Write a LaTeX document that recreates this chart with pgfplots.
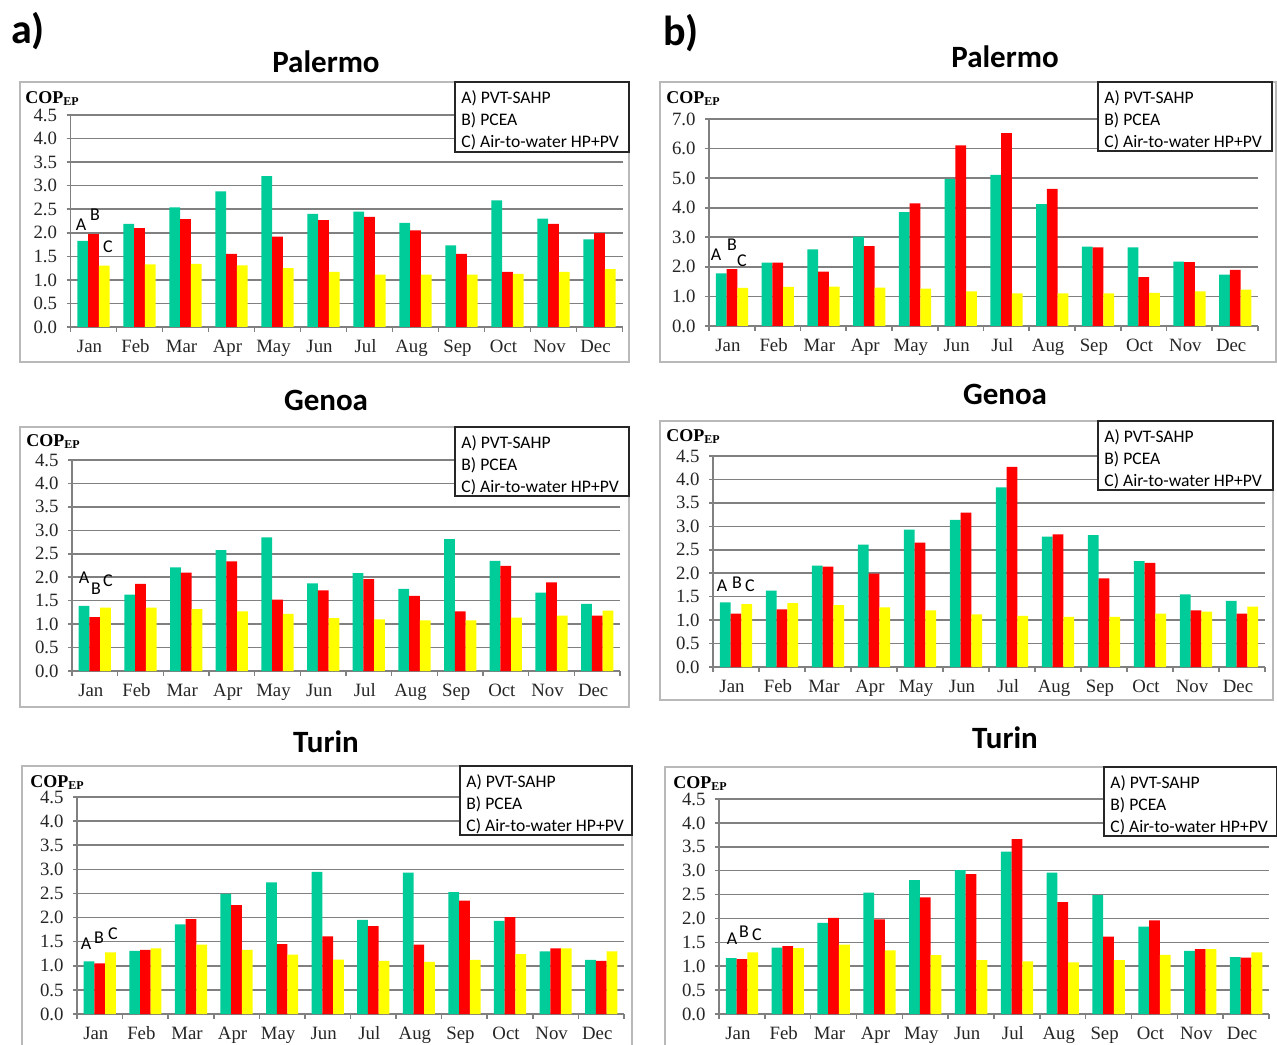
\documentclass[border=0pt]{standalone}
\usepackage{fontspec}
\setmainfont{Liberation Serif}
\newfontfamily\calib{Carlito}
\usepackage{pgfplots}
\usepackage{pgfplotstable}
\pgfplotsset{compat=1.18}
\definecolor{cG}{RGB}{0,204,153}
\definecolor{cR}{RGB}{255,0,0}
\definecolor{cY}{RGB}{255,255,0}
\definecolor{axg}{RGB}{128,128,128}
\definecolor{boxg}{RGB}{185,185,185}

\pgfplotstableread{
x A B C
0 1.83 1.97 1.30
1 2.19 2.10 1.33
2 2.54 2.29 1.34
3 2.88 1.55 1.31
4 3.20 1.92 1.25
5 2.40 2.27 1.17
6 2.45 2.34 1.11
7 2.21 2.05 1.11
8 1.73 1.55 1.11
9 2.69 1.17 1.13
10 2.30 2.19 1.17
11 1.86 1.99 1.23
}\PalA
\pgfplotstableread{
x A B C
0 1.78 1.92 1.29
1 2.14 2.14 1.32
2 2.59 1.84 1.33
3 3.02 2.70 1.30
4 3.85 4.15 1.26
5 4.97 6.11 1.17
6 5.11 6.52 1.10
7 4.12 4.64 1.10
8 2.68 2.66 1.10
9 2.66 1.65 1.12
10 2.18 2.16 1.17
11 1.74 1.90 1.23
}\PalB
\pgfplotstableread{
x A B C
0 1.39 1.15 1.35
1 1.63 1.86 1.35
2 2.21 2.10 1.32
3 2.58 2.34 1.27
4 2.85 1.52 1.22
5 1.87 1.72 1.13
6 2.09 1.96 1.10
7 1.75 1.60 1.08
8 2.81 1.27 1.08
9 2.35 2.24 1.14
10 1.67 1.89 1.18
11 1.43 1.18 1.29
}\GenA
\pgfplotstableread{
x A B C
0 1.38 1.14 1.34
1 1.63 1.23 1.36
2 2.16 2.14 1.32
3 2.61 1.99 1.27
4 2.93 2.65 1.21
5 3.14 3.29 1.12
6 3.83 4.27 1.09
7 2.78 2.83 1.07
8 2.81 1.89 1.07
9 2.26 2.22 1.14
10 1.55 1.21 1.18
11 1.41 1.14 1.29
}\GenB
\pgfplotstableread{
x A B C
0 1.09 1.05 1.28
1 1.31 1.33 1.36
2 1.86 1.97 1.44
3 2.49 2.26 1.33
4 2.73 1.45 1.23
5 2.95 1.61 1.13
6 1.95 1.82 1.10
7 2.93 1.44 1.08
8 2.53 2.35 1.12
9 1.93 2.01 1.24
10 1.30 1.36 1.36
11 1.12 1.10 1.30
}\TurA
\pgfplotstableread{
x A B C
0 1.17 1.15 1.29
1 1.39 1.42 1.38
2 1.91 2.01 1.45
3 2.54 1.98 1.33
4 2.80 2.44 1.23
5 3.01 2.93 1.13
6 3.40 3.66 1.10
7 2.96 2.34 1.08
8 2.49 1.62 1.13
9 1.83 1.96 1.24
10 1.32 1.36 1.36
11 1.19 1.18 1.29
}\TurB

\pgfplotsset{panel/.style={
  scale only axis, anchor=south west,
  ybar, bar width=0.235,
  xmin=-0.5, xmax=11.5, ymin=0,
  xtick={0,...,11},
  xticklabels={Jan,Feb,Mar,Apr,May,Jun,Jul,Aug,Sep,Oct,Nov,Dec},
  minor xtick={-0.5,0.5,...,11.5},
  tick align=outside,
  major tick length=2pt, minor tick length=2.5pt,
  every tick/.style={axg, line width=0.8pt},
  major x tick style={draw=none},
  axis x line*=bottom, axis y line*=left,
  axis line style={axg, line width=0.8pt, -},
  ymajorgrids, grid style={axg, line width=0.8pt},
  /pgf/number format/assume math mode=true,
  yticklabel={\pgfmathprintnumber[fixed,fixed zerofill,precision=1]{\tick}},
  tick label style={font=\fontsize{9.4}{10}\selectfont, text=black!85},
  yticklabel style={xshift=-1.2pt},
  xticklabel style={yshift=-0.5pt, xshift=-2pt, text height=6.5pt, text depth=2pt},
}}
\newcommand\bars[1]{%
  \addplot[fill=cG, draw=none, bar shift=-0.235] table[x=x,y=A]{#1};
  \addplot[fill=cR, draw=none, bar shift=0] table[x=x,y=B]{#1};
  \addplot[fill=cY, draw=none, bar shift=0.235] table[x=x,y=C]{#1};
}
\newcommand\legbox[4]{% x1 y1 x2 y2
  \draw[black!85, line width=0.9pt, fill=white] (#1,#2) rectangle (#3,#4);
  \node[anchor=west, inner sep=0pt, font=\calib\fontsize{8.8}{9}\selectfont] at (#1+6,#2+16) {A) PVT-SAHP};
  \node[anchor=west, inner sep=0pt, font=\calib\fontsize{8.8}{9}\selectfont] at (#1+6,#2+38) {B) PCEA};
  \node[anchor=west, inner sep=0pt, font=\calib\fontsize{8.8}{9}\selectfont] at (#1+6,#2+60) {C) Air-to-water HP+PV};
}
\newcommand\cop[2]{\node[anchor=base west, inner sep=0pt, font=\fontsize{9}{10}\selectfont\bfseries] at (#1,#2) {COP\textsubscript{EP}};}
\newcommand\ttl[3]{\node[font=\calib\bfseries\fontsize{15.5}{16}\selectfont, inner sep=0pt] at (#1,#2) {#3};}
\newcommand\abc[3]{%
  \node[font=\calib\fontsize{9}{10}\selectfont, inner sep=0pt] at (#1) {A};
  \node[font=\calib\fontsize{9}{10}\selectfont, inner sep=0pt] at (#2) {B};
  \node[font=\calib\fontsize{9}{10}\selectfont, inner sep=0pt] at (#3) {C};
}

\begin{document}
\begin{tikzpicture}
\useasboundingbox (0,0) rectangle (638.5pt,522pt);

\begin{scope}[x=0.5pt,y=-0.5pt,yshift=522pt]
% panel frames
\draw[boxg, line width=0.8pt] (20,82) rectangle (629,362);
\draw[boxg, line width=0.8pt] (660,82) rectangle (1276,362);
\draw[boxg, line width=0.8pt] (20,427) rectangle (629,707);
\draw[boxg, line width=0.8pt] (660,421) rectangle (1273,700);
\draw[boxg, line width=0.8pt] (22,766) rectangle (632,1070);
\draw[boxg, line width=0.8pt] (665,767) rectangle (1290,1070);

\node[font=\calib\bfseries\fontsize{21}{22}\selectfont, inner sep=0pt] at (28,31) {a)};
\node[font=\calib\bfseries\fontsize{21}{22}\selectfont, inner sep=0pt] at (681,33) {b)};

\ttl{326}{62}{Palermo}
\ttl{1005}{57}{Palermo}
\ttl{326}{400}{Genoa}
\ttl{1005}{394}{Genoa}
\ttl{326}{742}{Turin}
\ttl{1005}{738}{Turin}
\end{scope}

% a) Palermo
\begin{axis}[panel, at={(35.25pt,358.5pt)}, width=276pt, height=106pt, ymax=4.5, ytick={0,0.5,...,4.5}]
\bars{\PalA}
\end{axis}
% b) Palermo
\begin{axis}[panel, at={(354.5pt,359pt)}, width=274.5pt, height=103.5pt, ymax=7, ytick={0,1,...,7}]
\bars{\PalB}
\end{axis}
% a) Genoa
\begin{axis}[panel, at={(36pt,186.5pt)}, width=274pt, height=105.5pt, ymax=4.5, ytick={0,0.5,...,4.5}]
\bars{\GenA}
\end{axis}
% b) Genoa
\begin{axis}[panel, at={(356.5pt,188.5pt)}, width=276pt, height=105.5pt, ymax=4.5, ytick={0,0.5,...,4.5}]
\bars{\GenB}
\end{axis}
% a) Turin
\begin{axis}[panel, at={(38.5pt,15pt)}, width=273.5pt, height=108.5pt, ymax=4.5, ytick={0,0.5,...,4.5}]
\bars{\TurA}
\end{axis}
% b) Turin
\begin{axis}[panel, at={(359.5pt,15pt)}, width=275pt, height=107.5pt, ymax=4.5, ytick={0,0.5,...,4.5}]
\bars{\TurB}
\end{axis}

\begin{scope}[x=0.5pt,y=-0.5pt,yshift=522pt]
\legbox{455}{82}{629}{152}
\legbox{1098}{82}{1272}{151}
\legbox{455}{427}{629}{496}
\legbox{1098}{421}{1273}{490}
\legbox{460}{766}{632}{835}
\legbox{1104}{767}{1277}{836}

\cop{25}{104}
\cop{666}{104}
\cop{26}{447}
\cop{666}{442}
\cop{30}{787}
\cop{673}{788}

\abc{81,225}{95,215}{108,247}
\abc{716,255}{732,245}{742,261}
\abc{84,578}{96,589}{108,581}
\abc{722,586}{737,583}{750,586}
\abc{86,944}{99,938}{113,934}
\abc{732,939}{744,932}{757,935}
\end{scope}
\end{tikzpicture}
\end{document}
